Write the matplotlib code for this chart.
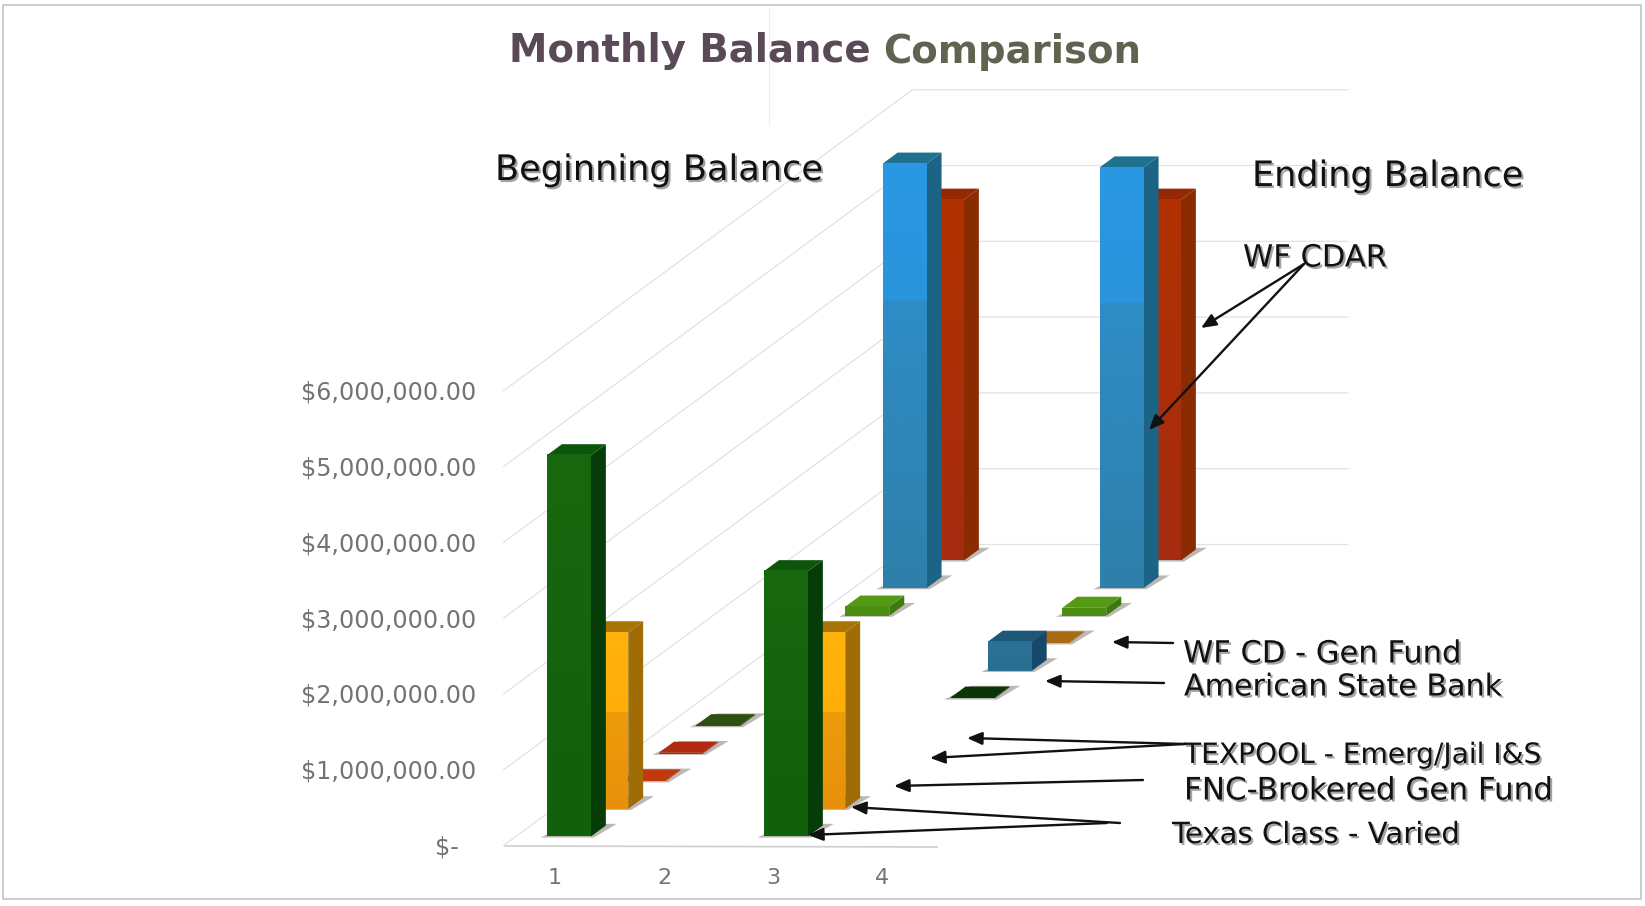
"""Monthly balance comparison, a 3D look bar chart drawn on a flat pixel canvas."""

import matplotlib
matplotlib.use("Agg")
import matplotlib.pyplot as plt
import matplotlib.patheffects as pe
import numpy as np
from matplotlib.colors import to_rgb
from matplotlib.patches import Polygon, Rectangle

categories = ["1", "2", "3", "4"]

# one list per depth row, front to back, values in dollars per category
texas_class = [5030000, 0, 3500000, 0]
fnc_brokered = [2330000, 0, 2330000, 0]
texpool_emerg = [12000, 0, 0, 0]
texpool_jail = [12000, 0, 0, 0]
texpool_is = [12000, 0, 0, 0]
american_state = [0, 0, 12000, 0]
wf_cd_small = [0, 0, 385000, 0]
wf_cd_gen = [0, 0, 12000, 0]
green_slab = [120000, 0, 105000, 0]
wf_cdar_blue = [5600000, 0, 5550000, 0]
wf_cdar_red = [4760000, 0, 4760000, 0]

rows = [texas_class, fnc_brokered, texpool_emerg, texpool_jail, texpool_is,
        american_state, wf_cd_small, wf_cd_gen, green_slab, wf_cdar_blue,
        wf_cdar_red]

y_ticks = [0, 1000000, 2000000, 3000000, 4000000, 5000000, 6000000]
y_tick_labels = ["$-", "$1,000,000.00", "$2,000,000.00", "$3,000,000.00",
                 "$4,000,000.00", "$5,000,000.00", "$6,000,000.00"]

# front stops (top to bottom), side colour, top colour for each depth row
styles = [
    ([(0, "#19680f"), (1, "#125f0c")], "#063c07", "#0c560c"),
    ([(0, "#ffb30c"), (0.45, "#ffae08"), (0.455, "#ec9c0a"), (1, "#e8900c")], "#a06c06", "#a87406"),
    ([(0, "#c4380e"), (1, "#c4380e")], "#b03008", "#c4380e"),
    ([(0, "#b02a10"), (1, "#b02a10")], "#a02408", "#b02a10"),
    ([(0, "#2f5010"), (1, "#2f5010")], "#284408", "#2f5010"),
    ([(0, "#0b3508"), (1, "#0b3508")], "#082c06", "#0b3508"),
    ([(0, "#2c7298"), (1, "#2a6e92")], "#17486c", "#1d5878"),
    ([(0, "#a86a12"), (1, "#a86a12")], "#94600e", "#a86a12"),
    ([(0, "#4c9012"), (1, "#4c8c12")], "#3c7a10", "#559a14"),
    ([(0, "#2a98e4"), (0.32, "#2a94dc"), (0.325, "#2e8cc6"), (1, "#2e80aa")], "#1c6486", "#1e7290"),
    ([(0, "#b23200"), (1, "#a62c12")], "#8a2c02", "#942802"),
]

# canvas is in image pixels, these set the oblique projection
X0, Y0 = 547.0, 836.5
CAT_DX = 108.5
ROW_DX, ROW_DY = 37.3, 27.6
PX_PER_DOLLAR = 75.8 / 1e6
BAR_W = 0.405
BAR_D = 0.4


def proj(cat, row, value=0.0):
    return (X0 + cat * CAT_DX + row * ROW_DX,
            Y0 - row * ROW_DY - value * PX_PER_DOLLAR)


def front_image(stops):
    pos = [s[0] for s in stops]
    cols = np.array([to_rgb(s[1]) for s in stops])
    t = np.linspace(0, 1, 256)
    return np.stack([np.interp(t, pos, cols[:, i]) for i in range(3)], axis=1)[:, None, :]


def draw_bar(ax, cat, row, value, style, z):
    stops, side, top = style
    shadow = [proj(cat - 0.045, row - 0.04), proj(cat + BAR_W + 0.04, row - 0.04),
              proj(cat + BAR_W + 0.08, row + BAR_D + 0.06), proj(cat + 0.03, row + BAR_D + 0.06)]
    ax.add_patch(Polygon(shadow, fc="#bdb8b4", ec="none", zorder=z))

    x0, y0 = proj(cat, row)
    x1, y1 = proj(cat + BAR_W, row, value)
    h = max(y0 - y1, 1.0)
    ax.add_patch(Polygon([proj(cat + BAR_W, row), proj(cat + BAR_W, row + BAR_D),
                          proj(cat + BAR_W, row + BAR_D, value), proj(cat + BAR_W, row, value)],
                         fc=side, ec="none", zorder=z + 0.1))
    ax.add_patch(Polygon([proj(cat, row, value), proj(cat + BAR_W, row, value),
                          proj(cat + BAR_W, row + BAR_D, value), proj(cat, row + BAR_D, value)],
                         fc=top, ec="none", zorder=z + 0.1))
    ax.imshow(front_image(stops), extent=(x0, x1, y0, y0 - h), origin="upper",
              aspect="auto", interpolation="bilinear", zorder=z + 0.2)


fig = plt.figure(figsize=(16.45, 9.06), dpi=100)
ax = fig.add_axes([0, 0, 1, 1])

# scan frame and fold line
ax.add_patch(Rectangle((3, 5), 1638, 894, fc="none", ec="#c4c4c4", lw=1.2, zorder=0))
ax.plot([769, 769], [8, 125], color="#eeeeee", lw=0.8, zorder=0)

# left diagonals and back wall grid
grid = "#e2e2e2"
for v in y_ticks:
    fx, fy = proj(-0.4, 0, v)
    fy += 9
    bx, by = fx + 409, fy - 301
    ax.plot([fx, bx, 1348], [fy, by, by], color=grid, lw=0.9, zorder=0.5)
ax.plot([505, 937], [846, 847], color="#cfcfcf", lw=1.2, zorder=0.5)

z = 2
for row in range(len(rows) - 1, -1, -1):
    for cat, value in enumerate(rows[row]):
        if value > 0:
            draw_bar(ax, cat, row, value, styles[row], z)
            z += 1

for v, lab in zip(y_ticks, y_tick_labels):
    right = 459 if v == 0 else 476
    ax.text(right, proj(0, 0, v)[1] + 11, lab, ha="right", va="center",
            fontsize=17.2, color="#737373", zorder=50)
for i, lab in enumerate(categories):
    ax.text(555 + i * 109, 878, lab, ha="center", va="center", fontsize=16,
            color="#737373", zorder=50)

ax.text(509, 51, "Monthly Balance", ha="left", va="center", fontsize=27.8,
        fontweight="bold", color="#5a4a58", zorder=50)
ax.text(883, 52, "Comparison", ha="left", va="center", fontsize=27.8,
        fontweight="bold", color="#5f6450", zorder=50)

shadow_fx = [pe.withSimplePatchShadow(offset=(1.5, -1.5), shadow_rgbFace="#666666", alpha=0.6)]
labels = [
    ("Beginning Balance", 495, 170, 25.3),
    ("Ending Balance", 1252, 176, 25.2),
    ("WF CDAR", 1243, 258, 22),
    ("WF CD - Gen Fund", 1183, 654, 22),
    ("American State Bank", 1184, 687, 21.7),
    ("TEXPOOL - Emerg/Jail I&S", 1184, 755, 20.2),
    ("FNC-Brokered Gen Fund", 1184, 791, 22.3),
    ("Texas Class - Varied", 1172, 835, 21),
]
for text, x, y, size in labels:
    ax.text(x, y, text, ha="left", va="center", fontsize=size, color="#111111",
            path_effects=shadow_fx, zorder=50)

arrows = [
    ((1304, 264), (1201, 328)), ((1304, 264), (1149, 430)),
    ((1173, 643), (1112, 642)), ((1164, 683), (1045, 681)),
    ((1185, 744), (967, 738)), ((1185, 744), (930, 758)),
    ((1143, 780), (894, 786)), ((1120, 823), (851, 807)),
    ((1107, 823), (808, 835)),
]
for start, end in arrows:
    ax.annotate("", xy=end, xytext=start, zorder=60,
                arrowprops=dict(arrowstyle="-|>,head_length=0.9,head_width=0.38",
                                color="#111111", lw=1.7, shrinkA=0, shrinkB=0))

ax.set_xlim(0, 1645)
ax.set_ylim(906, 0)
ax.axis("off")
fig.savefig("out.png", dpi=100, facecolor="white")
